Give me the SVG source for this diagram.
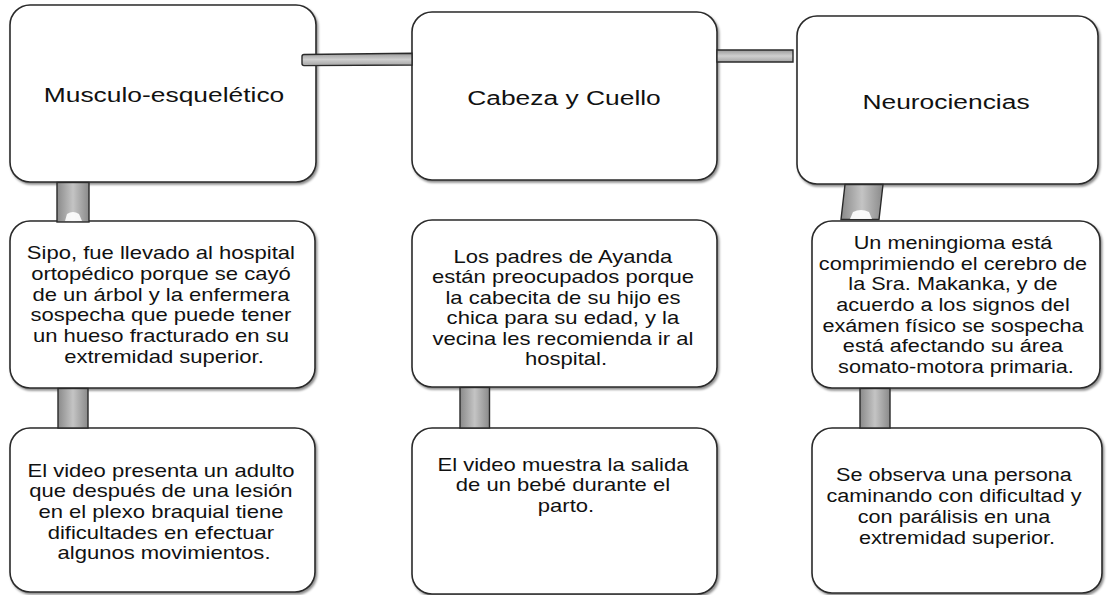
<svg xmlns="http://www.w3.org/2000/svg" width="1110" height="595" viewBox="0 0 1110 595">
<style>
.box{fill:#fff;stroke:#2a2a2a;stroke-width:1.6;filter:url(#sh)}
.title{font-family:"Liberation Sans",Arial,sans-serif;font-size:20px;fill:#111;text-anchor:middle}
.body{font-family:"Liberation Sans",Arial,sans-serif;font-size:19px;fill:#111;text-anchor:middle}
.bar{stroke:#2a2a2a;stroke-width:1.4}
.hl{fill:#fff;opacity:0.9}
</style>
<defs>
<filter id="sh" x="-5%" y="-5%" width="112%" height="112%">
<feDropShadow dx="1.5" dy="2" stdDeviation="1.2" flood-color="#000" flood-opacity="0.45"/>
</filter>
<linearGradient id="gv" x1="0" y1="0" x2="1" y2="0">
<stop offset="0" stop-color="#8a8a8a"/>
<stop offset="0.5" stop-color="#c4c4c4"/>
<stop offset="1" stop-color="#8a8a8a"/>
</linearGradient>
<linearGradient id="gh" x1="0" y1="0" x2="0" y2="1">
<stop offset="0" stop-color="#9a9a9a"/>
<stop offset="0.5" stop-color="#cfcfcf"/>
<stop offset="1" stop-color="#a5a5a5"/>
</linearGradient>
</defs>
<rect width="1110" height="595" fill="#fff"/>

<g id="n1"><rect class="box" x="10" y="5" width="306" height="177" rx="20"/>
<text class="title" transform="matrix(1.32 0 0 1 164 0)" x="0" y="102">Musculo-esquelético</text></g>
<g id="n2"><rect class="box" x="412" y="12" width="305" height="168" rx="20"/>
<text class="title" transform="matrix(1.32 0 0 1 564 0)" x="0" y="105">Cabeza y Cuello</text></g>
<g id="n3"><rect class="box" x="797" y="16" width="301" height="168" rx="20"/>
<text class="title" transform="matrix(1.32 0 0 1 946 0)" x="0" y="109">Neurociencias</text></g>

<g id="n4"><rect class="box" x="10" y="221" width="305" height="167" rx="20"/>
<text class="body" transform="matrix(1.16 0 0 1 164 0)">
<tspan x="0" y="259">Sipo, fue llevado al hospital</tspan>
<tspan x="0" y="280">ortopédico porque se cayó</tspan>
<tspan x="0" y="300.7">de un árbol y la enfermera</tspan>
<tspan x="0" y="321.5">sospecha que puede tener</tspan>
<tspan x="0" y="342">un hueso fracturado en su</tspan>
<tspan x="0" y="362.7">extremidad superior.</tspan>
</text></g>
<g id="n5"><rect class="box" x="412" y="220" width="305" height="167" rx="20"/>
<text class="body" transform="matrix(1.16 0 0 1 566 0)">
<tspan x="0" y="263">Los padres de Ayanda</tspan>
<tspan x="0" y="283.5">están preocupados porque</tspan>
<tspan x="0" y="304">la cabecita de su hijo es</tspan>
<tspan x="0" y="324.5">chica para su edad, y la</tspan>
<tspan x="0" y="345">vecina les recomienda ir al</tspan>
<tspan x="0" y="365.5">hospital.</tspan>
</text></g>
<g id="n6"><rect class="box" x="812" y="221" width="288" height="167" rx="20"/>
<text class="body" transform="matrix(1.14 0 0 1 956 0)">
<tspan x="0" y="249">Un meningioma está</tspan>
<tspan x="0" y="269.7">comprimiendo el cerebro de</tspan>
<tspan x="0" y="290.4">la Sra. Makanka, y de</tspan>
<tspan x="0" y="311.1">acuerdo a los signos del</tspan>
<tspan x="0" y="331.8">exámen físico se sospecha</tspan>
<tspan x="0" y="352.5">está afectando su área</tspan>
<tspan x="0" y="373.2">somato-motora primaria.</tspan>
</text></g>

<g id="n7"><rect class="box" x="10" y="428" width="305" height="164" rx="20"/>
<text class="body" transform="matrix(1.16 0 0 1 164 0)">
<tspan x="0" y="476.7">El video presenta un adulto</tspan>
<tspan x="0" y="497.3">que después de una lesión</tspan>
<tspan x="0" y="518.3">en el plexo braquial  tiene</tspan>
<tspan x="0" y="539.3">dificultades en efectuar</tspan>
<tspan x="0" y="559.5">algunos movimientos.</tspan>
</text></g>
<g id="n8"><rect class="box" x="412" y="428" width="305" height="166" rx="20"/>
<text class="body" transform="matrix(1.16 0 0 1 566 0)">
<tspan x="0" y="471">El video muestra la salida</tspan>
<tspan x="0" y="491.5">de un bebé durante el</tspan>
<tspan x="0" y="512">parto.</tspan>
</text></g>
<g id="n9"><rect class="box" x="812" y="428" width="290" height="165" rx="20"/>
<text class="body" transform="matrix(1.14 0 0 1 957 0)">
<tspan x="0" y="481">Se observa una persona</tspan>
<tspan x="0" y="502">caminando con  dificultad y</tspan>
<tspan x="0" y="523">con parálisis en una</tspan>
<tspan x="0" y="544">extremidad superior.</tspan>
</text></g>

<g id="connectors">
<path class="bar" d="M304,54.5 L412,53.3 L412,65 L304,65.6 Q302,65.6 302,63.6 L302,56.5 Q302,54.5 304,54.5 Z" fill="url(#gh)"/>
<path class="bar" d="M717,50 L793,50 L793,62 L717,62 Z" fill="url(#gh)"/>
<rect class="bar" x="57" y="182.5" width="32" height="39.5" fill="url(#gv)"/>
<path class="hl" d="M65,221 L67,214 Q73,210 79,214 L82,221 Z"/>
<path class="bar" d="M845,184.5 L883,184.5 L879,219.5 L841,219.5 Z" fill="url(#gv)"/>
<path class="hl" d="M850,219 L853,212 Q861,208 869,212 L872,219 Z"/>
<rect class="bar" x="58" y="388.5" width="30" height="39.5" fill="url(#gv)"/>
<rect class="bar" x="460" y="387.5" width="29.5" height="40.5" fill="url(#gv)"/>
<rect class="bar" x="860" y="388.5" width="30" height="39.5" fill="url(#gv)"/>
</g>
</svg>
